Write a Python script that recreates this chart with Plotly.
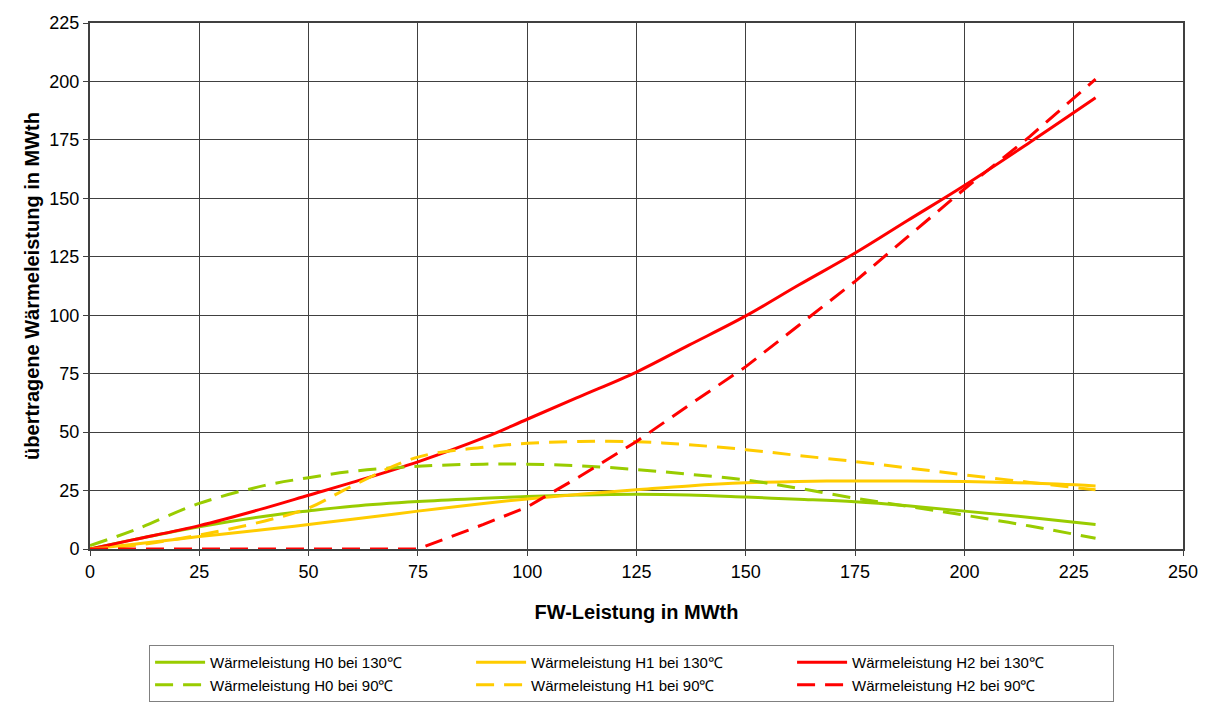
import plotly.graph_objects as go

x_vals = [0, 10, 25, 40, 50, 60, 75, 90, 100, 112, 125, 137, 150, 162, 175, 187, 200, 215, 230]

h0_130 = [0, 4, 9.5, 14, 16.3, 18.3, 20.3, 21.7, 22.5, 23.1, 23.4, 23.1, 22.2, 21.3, 20.2, 18.5, 16.2, 13.5, 10.5]
h1_130 = [0, 2, 5.3, 8.3, 10.5, 12.7, 16.2, 19.5, 21.4, 23.4, 25.3, 27, 28.3, 28.9, 29.1, 29.1, 28.9, 28.2, 27]
h2_130 = [0, 4, 10, 17.5, 23, 28.5, 37.3, 47.5, 55.5, 65.2, 75.7, 87.2, 99.7, 112.8, 126.6, 140.5, 155.5, 174, 193]
h0_90 = [1.5, 8, 19.5, 27.2, 30.5, 33.2, 35.4, 36.3, 36.3, 35.6, 34, 32, 29.5, 26, 21.7, 18.3, 14.5, 9.8, 4.6]
h1_90 = [0, 1.5, 6, 12, 17.5, 27, 39.3, 43.5, 45.2, 46, 45.9, 44.6, 42.5, 40, 37.4, 34.7, 31.7, 28.5, 25.3]
h2_90 = [0, 0, 0, 0, 0, 0, 0, 10.5, 18, 31, 46, 61.5, 78, 95.5, 114.5, 133.5, 154, 176.5, 201]

series = [
    ("Wärmeleistung H0 bei 130℃", h0_130, "#99CC00", "solid", "spline"),
    ("Wärmeleistung H1 bei 130℃", h1_130, "#FFCC00", "solid", "spline"),
    ("Wärmeleistung H2 bei 130℃", h2_130, "#FF0000", "solid", "spline"),
    ("Wärmeleistung H0 bei 90℃", h0_90, "#99CC00", "18px,10px", "spline"),
    ("Wärmeleistung H1 bei 90℃", h1_90, "#FFCC00", "18px,10px", "spline"),
    ("Wärmeleistung H2 bei 90℃", h2_90, "#FF0000", "18px,10px", "linear"),
]

fig = go.Figure()
for name, ys, color, dash, shape in series:
    line = dict(color=color, width=3, dash=dash, shape=shape)
    if shape == "spline":
        line["smoothing"] = 1.0
    fig.add_trace(go.Scatter(x=x_vals, y=ys, mode="lines", name=name, line=line))

font_family = "Liberation Sans, Arial, sans-serif"
fig.update_layout(
    width=1209, height=704,
    margin=dict(l=82, r=34, t=15, b=163, autoexpand=False),
    paper_bgcolor="white", plot_bgcolor="white",
    font=dict(family=font_family, size=18, color="black"),
    showlegend=True,
    legend=dict(
        orientation="h", x=0.4955, xanchor="center", y=-0.1825, yanchor="top",
        bordercolor="#808080", borderwidth=1,
        font=dict(size=15, family=font_family),
        entrywidth=256, entrywidthmode="pixels",
        traceorder="normal", itemwidth=50, tracegroupgap=0,
    ),
    xaxis=dict(
        range=[0, 250], tickvals=[0, 25, 50, 75, 100, 125, 150, 175, 200, 225, 250],
        showgrid=True, gridcolor="#404040", gridwidth=1,
        showline=True, linecolor="#404040", linewidth=2, mirror=True,
        ticks="outside", ticklen=5, tickcolor="#404040",
        zeroline=False, automargin=False,
        title=dict(text="<b>FW-Leistung in MWth</b>", font=dict(size=20), standoff=24),
        tickfont=dict(size=18),
    ),
    yaxis=dict(
        range=[0, 225], tickvals=[0, 25, 50, 75, 100, 125, 150, 175, 200, 225],
        showgrid=True, gridcolor="#404040", gridwidth=1,
        showline=True, linecolor="#404040", linewidth=2, mirror=True,
        ticks="outside", ticklen=5, tickcolor="#404040",
        zeroline=False, automargin=False,
        title=dict(text="<b>übertragene Wärmeleistung in MWth</b>", font=dict(size=20), standoff=4),
        tickfont=dict(size=18),
    ),
)

fig.write_html("out.html")
